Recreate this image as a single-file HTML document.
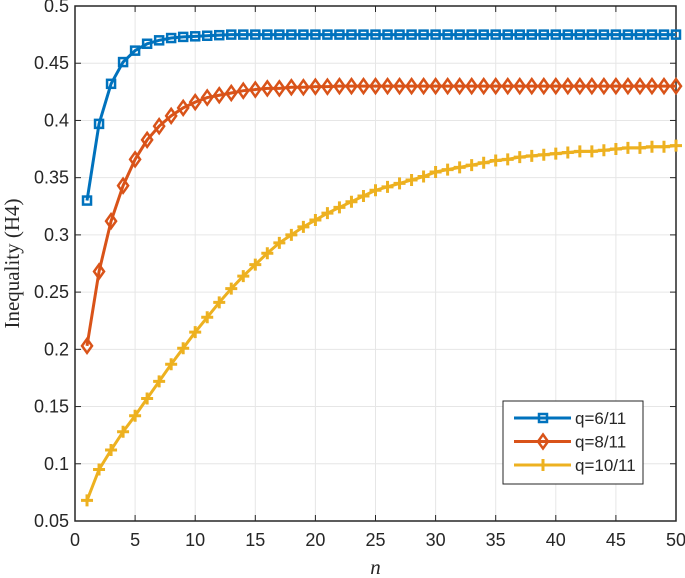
<!DOCTYPE html>
<html><head><meta charset="utf-8"><style>body{margin:0;background:#fff}svg{display:block}</style></head>
<body>
<svg id="c" width="685" height="578" xmlns="http://www.w3.org/2000/svg" font-family="Liberation Sans, sans-serif"></svg>
<script>
const xTicks=[0,5,10,15,20,25,30,35,40,45,50];
const yTicks=[0.05,0.1,0.15,0.2,0.25,0.3,0.35,0.4,0.45,0.5];
const yTickLabels=["0.05","0.1","0.15","0.2","0.25","0.3","0.35","0.4","0.45","0.5"];
const seriesNames=["q=6/11","q=8/11","q=10/11"];
const blue=[0.330,0.397,0.432,0.451,0.461,0.467,0.470,0.472,0.473,0.4735,0.474,0.4745,0.475,0.475,0.475,0.475,0.475,0.475,0.475,0.475,0.475,0.475,0.475,0.475,0.475,0.475,0.475,0.475,0.475,0.475,0.475,0.475,0.475,0.475,0.475,0.475,0.475,0.475,0.475,0.475,0.475,0.475,0.475,0.475,0.475,0.475,0.475,0.475,0.475,0.475];
const orange=[0.203,0.268,0.312,0.343,0.366,0.383,0.395,0.404,0.411,0.416,0.420,0.422,0.424,0.426,0.427,0.428,0.428,0.429,0.429,0.4295,0.4295,0.430,0.430,0.430,0.430,0.430,0.430,0.430,0.430,0.430,0.430,0.430,0.430,0.430,0.430,0.430,0.430,0.430,0.430,0.430,0.430,0.430,0.430,0.430,0.430,0.430,0.430,0.430,0.430,0.430];
const yellow=[0.068,0.095,0.112,0.128,0.142,0.157,0.172,0.187,0.201,0.215,0.228,0.241,0.253,0.264,0.274,0.284,0.293,0.300,0.307,0.313,0.319,0.324,0.329,0.334,0.339,0.342,0.345,0.348,0.351,0.355,0.357,0.359,0.361,0.363,0.365,0.366,0.368,0.369,0.370,0.371,0.372,0.373,0.373,0.374,0.375,0.376,0.376,0.377,0.377,0.378];
const L=75,R=676,T=6,B=521;
const X=v=>L+(v-0)/(50-0)*(R-L);
const Y=v=>B-(v-0.05)/(0.5-0.05)*(B-T);
const svg=document.getElementById('c');const NS='http://www.w3.org/2000/svg';
function mk(tag,attrs,parent){const e=document.createElementNS(NS,tag);for(const k in attrs)e.setAttribute(k,attrs[k]);(parent||svg).appendChild(e);return e;}
const grid=mk('g',{});


xTicks.forEach(t=>{mk('line',{x1:X(t),x2:X(t),y1:T,y2:B,stroke:'#e6e6e6','stroke-width':1},grid);});
yTicks.forEach(t=>{mk('line',{x1:L,x2:R,y1:Y(t),y2:Y(t),stroke:'#e6e6e6','stroke-width':1},grid);});
const ax=mk('g',{});


mk('rect',{x:L,y:T,width:R-L,height:B-T,fill:'none',stroke:'#262626','stroke-width':1.5},ax);
xTicks.forEach(t=>{mk('line',{x1:X(t),x2:X(t),y1:B,y2:B-6,stroke:'#262626'},ax);mk('line',{x1:X(t),x2:X(t),y1:T,y2:T+6,stroke:'#262626'},ax);
const tx=mk('text',{x:X(t),y:B+25,'font-size':18,'text-anchor':'middle',fill:'#262626'},ax);tx.textContent=t;

});
yTicks.forEach((t,i)=>{mk('line',{x1:L,x2:L+6,y1:Y(t),y2:Y(t),stroke:'#262626'},ax);mk('line',{x1:R,x2:R-6,y1:Y(t),y2:Y(t),stroke:'#262626'},ax);
const tx=mk('text',{x:L-6,y:Y(t)+6,'font-size':18,'text-anchor':'end',fill:'#262626'},ax);tx.textContent=yTickLabels[i];

});
const xl=mk('text',{x:(L+R)/2,y:574,'font-size':21,'font-style':'italic','font-family':'Liberation Serif, serif','text-anchor':'middle',fill:'#262626'});xl.textContent='n';


const yl=mk('text',{x:0,y:0,'font-size':21,'font-family':'Liberation Serif, serif','text-anchor':'middle',fill:'#262626',transform:'translate(19,'+((T+B)/2)+') rotate(-90)'});yl.textContent='Inequality (H4)';


function marker(type,x,y,col,g){
 if(type==='s')mk('rect',{x:x-4,y:y-4,width:8,height:8,fill:'none',stroke:col,'stroke-width':2.5},g);
 else if(type==='d')mk('path',{d:`M${x} ${y-7}L${x+5} ${y}L${x} ${y+7}L${x-5} ${y}Z`,fill:'none',stroke:col,'stroke-width':2.5},g);
 else mk('path',{d:`M${x-6} ${y}H${x+6}M${x} ${y-6}V${y+6}`,stroke:col,'stroke-width':3},g);
}
const defs=[[blue,'#0072bd','s','series-q6-11'],[orange,'#d95319','d','series-q8-11'],[yellow,'#edb120','p','series-q10-11']];
defs.forEach(([data,col,m,name])=>{
 const g=mk('g',{});
 
 
 mk('polyline',{points:data.map((v,i)=>X(i+1)+','+Y(v)).join(' '),fill:'none',stroke:col,'stroke-width':3},g);
 data.forEach((v,i)=>marker(m,X(i+1),Y(v),col,g));
});
const lg=mk('g',{});


mk('rect',{x:503,y:401,width:140,height:83,fill:'#fff',stroke:'#262626','stroke-width':1},lg);
defs.forEach(([d,col,m],i)=>{const y=418+i*23.5;
 const e=mk('g',{},lg);
 
 
 mk('line',{x1:514,x2:571,y1:y,y2:y,stroke:col,'stroke-width':3},e);marker(m,543,y,col,e);
 const t=mk('text',{x:575,y:y+6,'font-size':17,fill:'#262626'},e);t.textContent=seriesNames[i];});
</script>
</body></html>
